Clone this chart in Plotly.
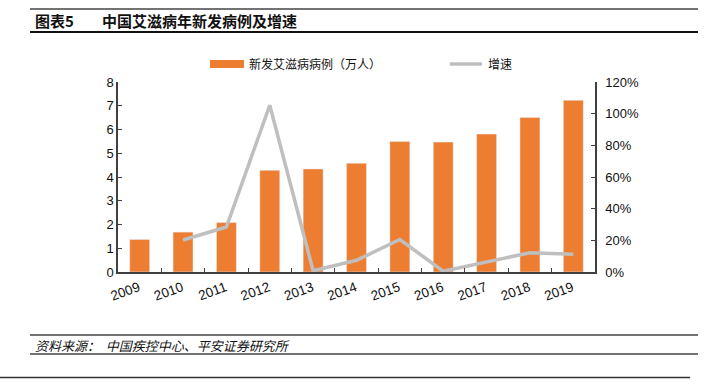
import plotly.graph_objects as go

years = ['2009', '2010', '2011', '2012', '2013', '2014', '2015', '2016', '2017', '2018', '2019']
cases = [1.37, 1.68, 2.08, 4.28, 4.34, 4.58, 5.50, 5.47, 5.81, 6.51, 7.23]
growth = [None, 0.202, 0.284, 1.053, 0.008, 0.074, 0.205, 0.005, 0.063, 0.122, 0.112]

bar_name = '新发艾滋病病例（万人）'
line_name = '增速'
title_text = '中国艾滋病年新发病例及增速'
source_text = '资料来源：  中国疾控中心、平安证券研究所'
footer_text = '公司研究报告，如经由未经许可的渠道获得研究报告，请慎重使用并注意阅读研究报告尾页的声明内容'

W, H = 716, 392
L, R, T, B = 118, 121, 82, 120
PW, PH = W - L - R, H - T - B

def px(x):
    return (x - L) / PW

def py(y):
    return (H - B - y) / PH

ORANGE = '#ED7D31'
GRAY = '#BFBFBF'
AXIS = '#404040'
FONT = 'Liberation Sans, Arial, Noto Sans CJK SC'
CJK = 'Noto Sans CJK SC, Liberation Sans'

fig = go.Figure()
fig.add_trace(go.Bar(x=years, y=cases, name=bar_name, marker_color=ORANGE, yaxis='y'))
fig.add_trace(go.Scatter(x=years, y=growth, name=line_name, mode='lines',
                         line=dict(color=GRAY, width=3.5), yaxis='y2',
                         connectgaps=False))

fig.update_layout(
    width=W, height=H,
    margin=dict(l=L, r=R, t=T, b=B, pad=0),
    paper_bgcolor='white', plot_bgcolor='white',
    showlegend=False,
    bargap=0.54,
    font=dict(family=FONT, size=12, color='#111'),
    xaxis=dict(type='category', showline=True, linecolor=AXIS, linewidth=1.5,
               ticks='inside', ticklen=4, tickcolor=AXIS, tickwidth=1,
               tickson='boundaries', tickangle=-20, showgrid=False,
               ticklabelshift=-1, ticklabelstandoff=1,
               tickfont=dict(size=13.5, family=FONT, color='#111')),
    yaxis=dict(range=[0, 8], dtick=1, showline=True, linecolor=AXIS, linewidth=1.5,
               ticks='inside', ticklen=4, tickcolor=AXIS, showgrid=False, zeroline=False,
               tickfont=dict(size=13, family=FONT, color='#111')),
    yaxis2=dict(range=[0, 1.2], dtick=0.2, tickformat='.0%', overlaying='y', side='right',
                showline=True, linecolor=AXIS, linewidth=1.5, ticks='inside', ticklen=4,
                tickcolor=AXIS, showgrid=False, zeroline=False, ticklabelstandoff=6,
                tickfont=dict(size=13, family=FONT, color='#111')),
)

shapes = []
def hline(x0, x1, y, w=1.5, c='#333'):
    shapes.append(dict(type='line', xref='paper', yref='paper', x0=px(x0), x1=px(x1),
                       y0=py(y), y1=py(y), line=dict(color=c, width=w)))

hline(30, 698, 9, 1.5, '#444')
hline(30, 698, 32, 2, '#111')
hline(30, 698, 335, 1.5, '#444')
hline(30, 698, 354, 1.5, '#444')
hline(0, 690, 377.5, 1.5, '#333')

# legend
shapes.append(dict(type='rect', xref='paper', yref='paper', x0=px(210), x1=px(244),
                   y0=py(68), y1=py(60), fillcolor=ORANGE, line=dict(width=0)))
shapes.append(dict(type='line', xref='paper', yref='paper', x0=px(450), x1=px(482),
                   y0=py(64), y1=py(64), line=dict(color=GRAY, width=3.5)))
fig.update_layout(shapes=shapes)

ann = []
def text(x, y, s, size=12, xanchor='left', yanchor='middle', bold=False, italic=False, fam=CJK, color='#111'):
    ann.append(dict(x=px(x), y=py(y), xref='paper', yref='paper', text=('<b>%s</b>' % s) if bold else s,
                    showarrow=False, xanchor=xanchor, yanchor=yanchor,
                    font=dict(size=size, family=fam, color=color,
                              style='italic' if italic else 'normal')))

text(33, 21, '图表5', size=15, bold=True)
text(100, 21, title_text, size=15, bold=True)
text(247, 64, bar_name, size=12)
text(486, 64, line_name, size=12)
text(33, 345, source_text, size=13, italic=True)
text(-7, 387, footer_text, size=11.5, yanchor='top')
text(644, 387, '8 / 27', size=13, yanchor='top', fam=FONT)
fig.update_layout(annotations=ann)

fig.write_html('out.html', config={'displayModeBar': False},
               post_script="document.body.style.margin='0';document.body.style.overflow='hidden';")
